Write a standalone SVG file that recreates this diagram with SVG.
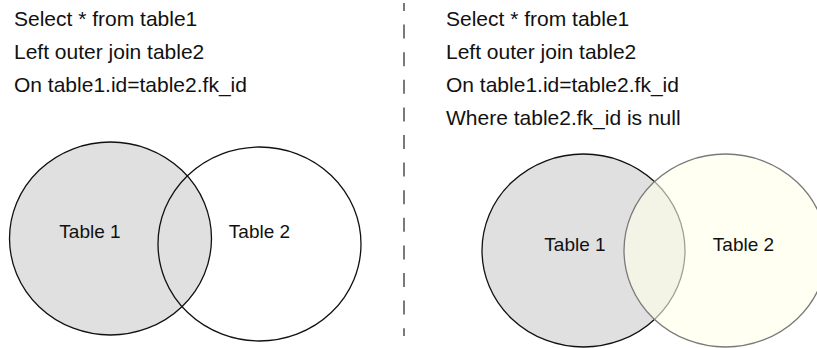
<svg xmlns="http://www.w3.org/2000/svg" width="817" height="348" viewBox="0 0 817 348">
<style>
.q{font-family:"Liberation Sans",Arial,Helvetica,sans-serif;font-size:21px;fill:#111}
.lbl{font-family:"Liberation Sans",Arial,Helvetica,sans-serif;font-size:19px;fill:#111;text-anchor:middle}
.c1{fill:#e0e0e0;stroke:#111;stroke-width:1.3}
.c2l{fill:none;stroke:#111;stroke-width:1.3}
.c2r{fill:#ffffe9;fill-opacity:0.6;stroke:#7a7a7a;stroke-width:1.3}
</style>
<rect width="817" height="348" fill="#fff"/>
<g id="query-left">
<text class="q" x="14" y="26">Select * from table1</text>
<text class="q" x="14" y="59">Left outer join table2</text>
<text class="q" x="14" y="92">On table1.id=table2.fk_id</text>
</g>
<g id="query-right">
<text class="q" x="446" y="26">Select * from table1</text>
<text class="q" x="446" y="59">Left outer join table2</text>
<text class="q" x="446" y="92">On table1.id=table2.fk_id</text>
<text class="q" x="446" y="125">Where table2.fk_id is null</text>
</g>
<g id="divider">
<line x1="404" y1="3" x2="404" y2="336" stroke="#222" stroke-width="1.2" stroke-dasharray="14 13.6" stroke-dashoffset="6"/>
</g>
<g id="left-table1">
<ellipse class="c1" cx="110.5" cy="238.5" rx="101" ry="96.5"/>
</g>
<g id="left-table2">
<ellipse class="c2l" cx="259.5" cy="244" rx="101.5" ry="97"/>
</g>
<text class="lbl" x="90" y="238">Table 1</text>
<text class="lbl" x="259.5" y="238">Table 2</text>
<g id="right-table1">
<ellipse class="c1" cx="583.5" cy="250.5" rx="101.5" ry="96.5"/>
</g>
<g id="right-table2">
<ellipse class="c2r" cx="725.5" cy="250.5" rx="101.5" ry="96.5"/>
</g>
<text class="lbl" x="575" y="251">Table 1</text>
<text class="lbl" x="743.5" y="251">Table 2</text>
</svg>
